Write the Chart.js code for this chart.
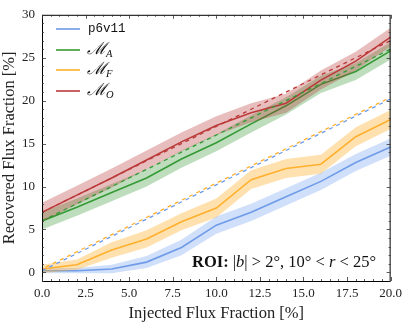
<!DOCTYPE html>
<html>
<head>
<meta charset="utf-8">
<script src="https://cdn.jsdelivr.net/npm/chart.js@4.4.1/dist/chart.umd.min.js"></script>
<style>
  html, body { margin: 0; padding: 0; background: #fff; }
  #wrap { width: 407px; height: 324px; }
</style>
</head>
<body>
<div id="wrap"><canvas id="chart" width="407" height="324"></canvas></div>
<script>
// injected flux fraction [%]
const injected = [0, 2, 4, 6, 8, 10, 12, 14, 16, 18, 20];

// recovered flux fraction [%]
const p6v11 = [0.2, 0.2, 0.4, 1.2, 2.9, 5.5, 7.0, 8.8, 10.6, 12.8, 14.6];
const p6v11Err = [0.3, 0.3, 0.5, 0.7, 0.9, 1.0, 1.0, 1.0, 1.0, 1.0, 1.0];
const modelA = [6.0, 7.6, 9.3, 11.0, 13.2, 15.1, 17.3, 19.4, 21.9, 23.4, 25.8];
const modelAErr = [1.0, 1.0, 1.0, 1.0, 1.0, 1.0, 1.0, 1.0, 1.0, 1.0, 1.0];
const modelF = [0.4, 0.9, 2.6, 3.9, 5.9, 7.5, 10.8, 12.1, 12.6, 15.8, 17.8];
const modelFErr = [0.5, 0.6, 0.9, 1.0, 1.0, 1.1, 1.1, 1.1, 1.1, 1.1, 1.1];
const modelO = [7.0, 9.0, 11.0, 13.1, 15.2, 17.1, 18.6, 19.7, 22.4, 24.6, 27.4];
const modelOErr = [1.1, 1.1, 1.1, 1.1, 1.1, 1.1, 1.1, 1.1, 1.1, 1.1, 1.1];

// dashed "expected" lines (end points)
const truthX = [0, 20];
const p6v11Truth = [0.2, 20.2];
const modelATruth = [6.0, 26.0];
const modelFTruth = [0.4, 20.4];
const modelOTruth = [7.0, 27.0];

const xTicks = [0, 2.5, 5, 7.5, 10, 12.5, 15, 17.5, 20];
const yTicks = [0, 5, 10, 15, 20, 25, 30];

const series = [
  { name: 'p6v11', y: p6v11, err: p6v11Err, truth: p6v11Truth, color: '#6f9be8', band: 'rgba(100,149,237,0.30)', dash: 0 },
  { name: 'A', y: modelA, err: modelAErr, truth: modelATruth, color: '#359a35', band: 'rgba(50,150,50,0.32)', dash: 0 },
  { name: 'F', y: modelF, err: modelFErr, truth: modelFTruth, color: '#ffb02e', band: 'rgba(255,176,46,0.38)', dash: 4 },
  { name: 'O', y: modelO, err: modelOErr, truth: modelOTruth, color: '#bb3a3a', band: 'rgba(185,50,50,0.32)', dash: 0 }
];

const pts = (xs, ys) => xs.map((x, i) => ({ x: x, y: ys[i] }));

const datasets = [];
let ord = 100;
series.forEach(s => {
  datasets.push({
    data: pts(injected, s.y.map((v, i) => v + s.err[i])),
    borderWidth: 0, pointRadius: 0, backgroundColor: s.band, fill: '+1', order: ord--
  });
  datasets.push({
    data: pts(injected, s.y.map((v, i) => v - s.err[i])),
    borderWidth: 0, pointRadius: 0, fill: false, order: ord--
  });
  datasets.push({
    data: pts(injected, s.y),
    borderColor: s.color, borderWidth: 1.6, pointRadius: 0, fill: false, order: ord--
  });
});
series.forEach(s => {
  datasets.push({
    data: pts(truthX, s.truth),
    borderColor: s.color, borderWidth: 1.3, borderDash: [4, 4], borderDashOffset: s.dash,
    pointRadius: 0, fill: false, order: ord--
  });
});

const serif = "'Liberation Serif', 'DejaVu Serif', serif";

const decorations = {
  id: 'decorations',
  afterDraw(chart) {
    const { ctx, chartArea: a, scales } = chart;
    const xs = scales.x, ys = scales.y;
    ctx.save();
    ctx.strokeStyle = '#000';
    ctx.lineWidth = 1;
    ctx.strokeRect(a.left + 0.5, a.top + 0.5, a.right - a.left - 1, a.bottom - a.top);
    ctx.lineWidth = 0.8;
    ctx.strokeStyle = '#333';
    ctx.beginPath();
    // x ticks (major 2.5, minor 0.5)
    for (let k = 0; k <= 40; k++) {
      const v = k * 0.5;
      const px = Math.round(xs.getPixelForValue(v)) + 0.5;
      const len = (k % 5 === 0) ? 4 : 2;
      ctx.moveTo(px, a.bottom); ctx.lineTo(px, a.bottom - len);
      ctx.moveTo(px, a.top); ctx.lineTo(px, a.top + len);
    }
    // y ticks (major 5, minor 1)
    for (let v = -1; v <= 30; v++) {
      const py = Math.round(ys.getPixelForValue(v)) + 0.5;
      const len = (v % 5 === 0) ? 4 : 2;
      ctx.moveTo(a.left, py); ctx.lineTo(a.left + len, py);
      ctx.moveTo(a.right, py); ctx.lineTo(a.right - len, py);
    }
    ctx.stroke();

    // legend
    const rows = [29, 50, 70, 91];
    series.forEach((s, i) => {
      const y = rows[i];
      ctx.strokeStyle = s.color;
      ctx.lineWidth = 1.6;
      ctx.beginPath();
      ctx.moveTo(56, y); ctx.lineTo(80, y);
      ctx.stroke();
      ctx.fillStyle = '#111';
      ctx.textBaseline = 'middle';
      if (s.name === 'p6v11') {
        ctx.font = "12.5px 'Liberation Mono', 'DejaVu Sans Mono', monospace";
        ctx.fillText('p6v11', 88, y);
      } else {
        ctx.font = "italic 17px 'DejaVu Serif', serif";
        ctx.fillText('\u2133', 87, y);
        const w = ctx.measureText('\u2133').width;
        ctx.font = "italic 10.5px " + serif;
        ctx.fillText(s.name, 87 + w - 1, y + 4);
      }
    });

    // ROI annotation
    const parts = [
      ['bold 16.5px ' + serif, 'ROI: '],
      ['16.5px ' + serif, '|'],
      ['italic 16.5px ' + serif, 'b'],
      ['16.5px ' + serif, '| > 2\u00b0, 10\u00b0 < '],
      ['italic 16.5px ' + serif, 'r'],
      ['16.5px ' + serif, ' < 25\u00b0']
    ];
    let x = 192;
    ctx.textBaseline = 'alphabetic';
    ctx.fillStyle = '#111';
    parts.forEach(p => {
      ctx.font = p[0];
      ctx.fillText(p[1], x, 267);
      x += ctx.measureText(p[1]).width;
    });
    ctx.restore();
  }
};

new Chart(document.getElementById('chart'), {
  type: 'line',
  data: { datasets: datasets },
  options: {
    responsive: false,
    animation: false,
    layout: { padding: { top: 9, right: 16, left: 0, bottom: 0 } },
    plugins: { legend: { display: false }, tooltip: { enabled: false } },
    elements: { line: { tension: 0 } },
    scales: {
      x: {
        type: 'linear', min: 0, max: 20,
        grid: { display: false, drawTicks: false },
        border: { display: false },
        afterBuildTicks: sc => { sc.ticks = xTicks.map(v => ({ value: v })); },
        afterFit: sc => { sc.height = 43; },
        ticks: {
          padding: 5, color: '#222', maxRotation: 0,
          font: { family: serif, size: 13 },
          callback: v => v.toFixed(1)
        },
        title: {
          display: true, text: 'Injected Flux Fraction [%]', color: '#222',
          font: { family: serif, size: 16.5 }, padding: { top: 1, bottom: 0 }
        }
      },
      y: {
        type: 'linear', min: -1, max: 30,
        grid: { display: false, drawTicks: false },
        border: { display: false },
        afterBuildTicks: sc => { sc.ticks = yTicks.map(v => ({ value: v })); },
        afterFit: sc => { sc.width = 42; },
        ticks: {
          padding: 7, color: '#222',
          font: { family: serif, size: 13 },
          callback: v => String(v)
        },
        title: {
          display: true, text: 'Recovered Flux Fraction [%]', color: '#222',
          font: { family: serif, size: 16.5 }, padding: { top: 0, bottom: 1 }
        }
      }
    }
  },
  plugins: [decorations]
});
</script>
</body>
</html>
